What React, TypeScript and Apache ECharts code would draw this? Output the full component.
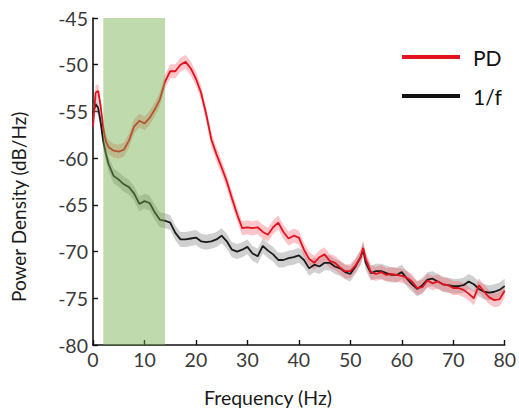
import React, { useEffect, useRef } from "react";
import * as echarts from "echarts";

const freqs = [0, 0.5, 1, 1.5, 2, 2.5, 3, 4, 5, 6, 7, 8, 9, 10, 11, 12, 13, 14, 15, 16, 17, 18, 19, 20,
  21, 22, 23, 24, 25, 26, 27, 28, 29, 30, 31, 32, 33, 34, 35, 36, 37, 38, 39, 40,
  41, 42, 43, 44, 45, 46, 47, 48, 49, 50, 51, 52, 52.5, 53, 54, 55, 56, 57, 58, 59, 60,
  61, 62, 63, 64, 65, 66, 67, 68, 69, 70, 71, 72, 73, 74, 75, 76, 77, 78, 79, 80];

const pdValues = [-56.6, -53.0, -52.8, -54.5, -56.8, -58.2, -58.8, -59.2, -59.3, -59.1, -58.1, -56.6, -56.0, -56.3, -55.7, -54.8, -53.7, -51.8, -50.7, -50.7, -50.0, -49.7, -50.4, -51.5,
  -53.0, -55.3, -58.0, -59.6, -61.0, -62.5, -64.3, -66.0, -67.5, -67.4, -67.5, -67.4, -67.9, -68.2, -67.4, -66.9, -67.9, -68.6, -68.3, -68.5,
  -69.8, -70.8, -71.2, -70.6, -70.3, -71.0, -71.2, -71.7, -72.1, -72.1, -71.5, -70.6, -69.6, -70.8, -72.2, -72.4, -72.2, -72.5, -72.4, -72.5, -72.6,
  -72.8, -73.2, -73.9, -73.8, -73.1, -73.4, -73.2, -73.5, -73.6, -73.9, -73.9, -74.1, -74.5, -75.0, -73.6, -74.3, -74.9, -75.2, -75.1, -74.2];

const fValues = [-55.2, -54.2, -54.6, -56.2, -58.2, -59.5, -60.6, -61.9, -62.3, -62.8, -63.1, -63.8, -64.9, -64.6, -64.8, -65.8, -66.6, -66.7, -66.9, -68.0, -68.7, -68.7, -68.6, -68.5,
  -68.9, -69.0, -68.9, -68.7, -68.3, -68.9, -69.8, -70.0, -69.8, -69.5, -70.2, -70.5, -69.4, -69.9, -70.3, -70.9, -70.9, -70.7, -70.6, -70.4,
  -70.9, -71.8, -71.4, -71.6, -71.2, -71.2, -71.6, -71.8, -72.2, -72.4, -71.6, -70.6, -69.8, -71.2, -72.3, -72.1, -72.1, -72.3, -72.5, -72.5, -72.2,
  -72.9, -73.5, -74.0, -73.6, -73.0, -72.9, -73.2, -73.5, -73.6, -73.7, -73.7, -73.6, -73.2, -73.5, -74.0, -74.3, -74.4, -74.3, -74.1, -73.7];

const PD_SEM = 0.75;
const F_SEM = 0.8;
const bandRange = [2, 14];
const yTicks = { min: -80, max: -45, interval: 5 };
const xTicks = { min: 0, max: 80, interval: 10 };

const FONT = "Lato";

function bandSeries(values: number[], sem: number, color: string, z: number) {
  return {
    type: "custom",
    coordinateSystem: "cartesian2d",
    silent: true,
    clip: true,
    z,
    data: [[freqs[0], values[0]]],
    renderItem: (_params: any, api: any) => {
      const upper = freqs.map((f, i) => api.coord([f, values[i] + sem]));
      const lower = freqs.map((f, i) => api.coord([f, values[i] - sem])).reverse();
      return {
        type: "polygon",
        shape: { points: upper.concat(lower) },
        style: { fill: color, stroke: "none" },
      };
    },
  };
}

export default function App() {
  const ref = useRef<HTMLDivElement>(null);
  useEffect(() => {
    if (!ref.current) return;
    const chart = echarts.init(ref.current, null, { renderer: "svg" });
    const pdData = freqs.map((f, i) => [f, pdValues[i]]);
    const fData = freqs.map((f, i) => [f, fValues[i]]);
    chart.setOption({
      animation: false,
      backgroundColor: "#ffffff",
      grid: { left: 93, right: 14, top: 18, bottom: 66, containLabel: false },
      legend: {
        orient: "vertical",
        left: 397,
        top: 39,
        itemWidth: 58,
        itemHeight: 4,
        itemGap: 13,
        icon: "rect",
        data: [
          { name: "PD", itemStyle: { color: "#e3121f" } },
          { name: "1/f", itemStyle: { color: "#111111" } },
        ],
        textStyle: { fontFamily: FONT, fontSize: 21, color: "#111", padding: [0, 0, 0, 8], lineHeight: 26 },
      },
      xAxis: {
        type: "value",
        min: xTicks.min,
        max: xTicks.max,
        interval: xTicks.interval,
        axisLine: { lineStyle: { color: "#111", width: 1.6 } },
        axisTick: { inside: true, length: 5, lineStyle: { color: "#111", width: 1.4 } },
        axisLabel: { fontFamily: FONT, fontSize: 19.5, color: "#3a3a3a", margin: 4 },
        splitLine: { show: false },
      },
      yAxis: {
        type: "value",
        min: yTicks.min,
        max: yTicks.max,
        interval: yTicks.interval,
        axisLine: { show: true, lineStyle: { color: "#111", width: 1.6 } },
        axisTick: { show: true, inside: true, length: 5, lineStyle: { color: "#111", width: 1.4 } },
        axisLabel: { fontFamily: FONT, fontSize: 19.5, color: "#3a3a3a", margin: 5 },
        splitLine: { show: false },
      },
      graphic: [
        {
          type: "text",
          left: 204,
          top: 387,
          style: { text: "Frequency (Hz)", fontFamily: FONT, fontSize: 19.5, fill: "#1a1a1a" },
        },
        {
          type: "text",
          x: 9,
          y: 302,
          rotation: Math.PI / 2,
          style: { text: "Power Density (dB/Hz)", fontFamily: FONT, fontSize: 19, fill: "#1a1a1a" },
        },
      ],
      series: [
        bandSeries(fValues, F_SEM, "rgba(150,150,150,0.45)", 1),
        bandSeries(pdValues, PD_SEM, "rgba(245,90,100,0.35)", 2),
        {
          name: "1/f",
          type: "line",
          data: fData,
          symbol: "none",
          z: 3,
          lineStyle: { color: "#1a1a1a", width: 1.8 },
          itemStyle: { color: "#1a1a1a" },
        },
        {
          name: "PD",
          type: "line",
          data: pdData,
          symbol: "none",
          z: 4,
          lineStyle: { color: "#e3121f", width: 1.8 },
          itemStyle: { color: "#e3121f" },
        },
        {
          type: "custom",
          coordinateSystem: "cartesian2d",
          silent: true,
          z: 10,
          data: [[bandRange[0], bandRange[1]]],
          renderItem: (_params: any, api: any) => {
            const p0 = api.coord([bandRange[0], yTicks.max]);
            const p1 = api.coord([bandRange[1], yTicks.min]);
            return {
              type: "rect",
              shape: { x: p0[0], y: p0[1], width: p1[0] - p0[0], height: p1[1] - p0[1] },
              style: { fill: "rgba(112,173,71,0.45)" },
            };
          },
        },
      ],
    });
    return () => chart.dispose();
  }, []);
  return <div ref={ref} style={{ position: "fixed", left: 0, top: 0, width: 519, height: 411 }} />;
}
